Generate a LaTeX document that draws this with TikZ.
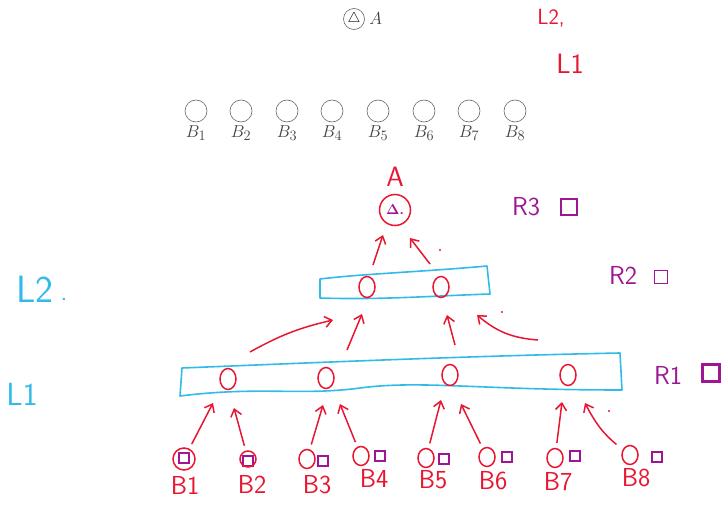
\documentclass[tikz,border=0pt]{standalone}
\usepackage{tikz}
\usetikzlibrary{arrows.meta, positioning, shapes.geometric}
\usepackage{amsmath}
\usepackage{xcolor}
\definecolor{inkred}{RGB}{232,22,48}
\definecolor{inkblue}{RGB}{50,186,232}
\definecolor{inkpurple}{RGB}{158,22,148}
\tikzset{%
	plain unit/.style={
		circle,
		draw=black!60,
		line width=0.6pt,
		minimum size=22pt,
		inner sep=0pt
	},
	plain label/.style={
		text=black!75,
		font=\fontsize{19}{22}\selectfont
	},
	ink unit/.style={
		ellipse,
		draw=inkred,
		line width=1.5pt,
		minimum width=16pt,
		minimum height=21pt,
		inner sep=0pt
	},
	ink square/.style={
		draw=inkpurple,
		line width=1.5pt,
		minimum size=10pt,
		inner sep=0pt
	},
	ink arrow/.style={
		draw=inkred,
		line width=1.5pt,
		-{Straight Barb[length=7pt,width=11pt]}
	},
	layer box/.style={
		draw=inkblue,
		line width=1.6pt,
		line join=round
	},
	ink text/.style={
		font=\sffamily\fontsize{26}{28}\selectfont,
		inner sep=0pt
	},
}

\begin{document}
\begin{tikzpicture}[x=1pt, y=-1pt]
	\useasboundingbox (0,0) rectangle (723,506);

	% Typeset tree: root and the row of leaves
	\node[plain unit, minimum size=21pt] (root) at (354,19) {\fontsize{15}{17}\selectfont$\triangle$};
	\node[plain label, right=1pt of root] (rootlabel) {$A$};
	\foreach \x [count=\i] in {196,241,287,332,378,424,469,515} {
		\node[plain unit] (b\i) at (\x,111) {};
		\node[plain label, below=0pt of b\i] (bl\i) {$B_{\i}$};
	}

	% Notes in red next to the root
	\node[ink text, text=inkred, font=\sffamily\fontsize{22}{24}\selectfont] (notetwo) at (551,18) {L2,};
	\node[ink text, text=inkred, font=\sffamily\fontsize{28}{30}\selectfont] (noteone) at (570,64) {L1};

	% Handwritten tree: root
	\node[ink text, text=inkred, font=\sffamily\fontsize{28}{30}\selectfont] (topname) at (395,177) {A};
	\node[circle, draw=inkred, line width=1.5pt, minimum size=31pt, inner sep=0pt] (top) at (395,210)
		{\textcolor{inkpurple}{\sffamily\bfseries\fontsize{14}{16}\selectfont$\boldsymbol{\Delta}$.}};
	\node[ink text, text=inkpurple] (rthree) at (526,207) {R3};
	\node[ink square, minimum size=16pt] (sqthree) at (569,207) {};

	% Second layer
	\coordinate (l2nw) at (320,279);
	\coordinate (l2ne) at (487,266);
	\coordinate (l2se) at (490,294);
	\coordinate (l2sw) at (320,298);
	\draw[layer box] (l2nw) .. controls (360,274) and (420,272) .. (l2ne) -- (l2se)
		.. controls (430,296) and (380,300) .. (l2sw) -- cycle;
	\node[ink unit] (u21) at (367,287) {};
	\node[ink unit] (u22) at (441,287) {};
	\node[ink text, text=inkblue, font=\sffamily\fontsize{38}{40}\selectfont] (ltwo) at (35,289) {L2};
	\node[ink text, text=inkblue] (ltwodot) at (64,299) {.};
	\node[ink text, text=inkpurple] (rtwo) at (623,275) {R2};
	\node[ink square, minimum size=13pt] (sqtwo) at (661,277) {};

	% First layer
	\coordinate (l1nw) at (182,368);
	\coordinate (l1ne) at (620,353);
	\coordinate (l1se) at (622,390);
	\coordinate (l1sw) at (180,396);
	\draw[layer box] (l1nw) .. controls (330,362) and (470,356) .. (l1ne) -- (l1se)
		.. controls (480,390) and (420,380) .. (360,388)
		.. controls (300,396) and (260,386) .. (l1sw) -- cycle;
	\foreach \x/\y [count=\i] in {228/379,326/378,450/375,568/375} {
		\node[ink unit] (u1\i) at (\x,\y) {};
	}
	\node[ink text, text=inkblue, font=\sffamily\fontsize{32}{34}\selectfont] (lone) at (22,394) {L1};
	\node[ink text, text=inkpurple] (rone) at (668,375) {R1};
	\node[ink square, line width=3pt, minimum size=17pt] (sqone) at (711,373) {};

	% Bottom: leaves with their purple boxes
	\foreach \x/\y/\sx/\sy/\lx/\ly [count=\i] in {
		184/459/184/458/185/485,
		248/459/248/461/252/484,
		307/459/323/461/317/485,
		361/456/380/456/374/478,
		426/458/444/459/433/480,
		487/457/507/457/493/481,
		555/458/575/456/558/482,
		630/455/657/457/636/478} {
		\node[ink square, minimum size=10pt] (s\i) at (\sx,\sy) {};
		\node[ink text, text=inkred] (n\i) at (\lx,\ly) {B\i};
	}
	\node[circle, draw=inkred, line width=1.5pt, minimum size=22pt, inner sep=0pt] (v1) at (184,459) {};
	\node[circle, draw=inkred, line width=1.5pt, minimum width=16pt, inner sep=0pt] (v2) at (248,459) {};
	\foreach \x/\y [count=\i from 3] in {307/459,361/456,426/458,487/457,555/458,630/455} {
		\node[ink unit, minimum width=16pt, minimum height=19pt] (v\i) at (\x,\y) {};
	}

	% Arrows from the leaves into the first layer
	\foreach \x/\y [count=\i] in {213/403,234/408,323/405,340/404,441/400,461/404,562/402} {
		\coordinate (h\i) at (\x,\y);
		\draw[ink arrow, shorten <=5pt] (v\i) -- (h\i);
	}
	\coordinate (h8) at (585,403);
	\draw[ink arrow, shorten <=8pt] (v8) to[bend left=12] (h8);
	\fill[inkred] (609,411) circle (1.2pt);

	% Arrows from the first layer into the second
	\coordinate (t1) at (250,352);
	\coordinate (t2) at (347,350);
	\coordinate (t3) at (455,345);
	\coordinate (t4) at (538,340);
	\coordinate (e1) at (333,320);
	\coordinate (e2) at (362,314);
	\coordinate (e3) at (447,315);
	\coordinate (e4) at (477,315);
	\draw[ink arrow] (t1) to[bend left=8] (e1);
	\draw[ink arrow] (t2) -- (e2);
	\draw[ink arrow] (t3) -- (e3);
	\draw[ink arrow] (t4) to[bend left=18] (e4);
	\fill[inkred] (502,312) circle (1.2pt);

	% Arrows from the second layer into the root
	\coordinate (t5) at (373,265);
	\coordinate (t6) at (430,264);
	\coordinate (e5) at (383,235);
	\coordinate (e6) at (410,238);
	\draw[ink arrow] (t5) -- (e5);
	\draw[ink arrow] (t6) -- (e6);
	\fill[inkred] (440,250) circle (1.2pt);
\end{tikzpicture}
\end{document}
